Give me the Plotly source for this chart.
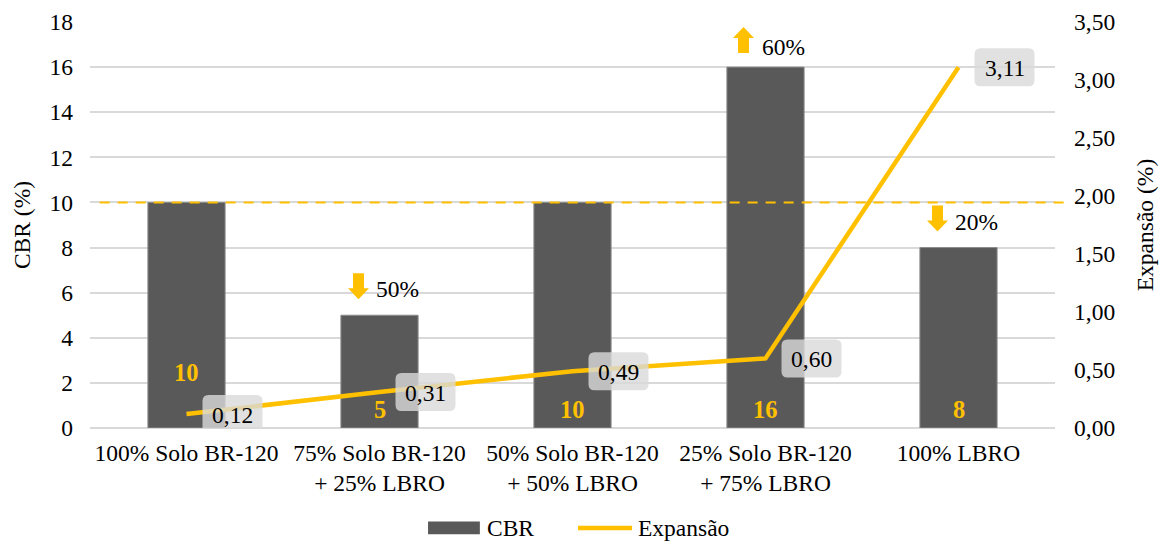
import plotly.graph_objects as go

# --- data -------------------------------------------------------------
categories = [
    "100% Solo BR-120",
    "75% Solo BR-120<br>+ 25% LBRO",
    "50% Solo BR-120<br>+ 50% LBRO",
    "25% Solo BR-120<br>+ 75% LBRO",
    "100% LBRO",
]
cbr = [10, 5, 10, 16, 8]                      # CBR (%)
expansao = [0.12, 0.31, 0.49, 0.60, 3.11]     # Expansão (%)
cbr_limite = 10                               # reference CBR line
cbr_ticks = [0, 2, 4, 6, 8, 10, 12, 14, 16, 18]
exp_ticks = [0.0, 0.5, 1.0, 1.5, 2.0, 2.5, 3.0, 3.5]
series_names = ["CBR", "Expansão"]

# --- style ------------------------------------------------------------
GOLD = "#FFC000"
BAR = "#595959"
GRID = "#d9d9d9"
FONT = "Liberation Serif, Times New Roman, serif"
FS = 23.5
bar_label_lift = [40, 3, 3, 3, 3]   # px above baseline for the CBR value labels


def fmt(v, nd=2):
    return f"{v:.{nd}f}".replace(".", ",")


fig = go.Figure()

fig.add_trace(go.Bar(
    x=categories, y=cbr, name=series_names[0],
    marker=dict(color=BAR, line=dict(color="#8c8c8c", width=1)),
    width=0.4, yaxis="y",
))
fig.add_trace(go.Scatter(
    x=categories, y=expansao, name=series_names[1], mode="lines",
    line=dict(color=GOLD, width=4.5), yaxis="y2",
))

shapes = []
annotations = []

# dashed reference line at the CBR limit
shapes.append(dict(
    type="line", xref="paper", yref="y", x0=0.01, x1=1.016,
    y0=cbr_limite, y1=cbr_limite, layer="above",
    line=dict(color=GOLD, width=2, dash="10px,8px"),
))

# CBR value labels inside the bars
for cat, v, lift in zip(categories, cbr, bar_label_lift):
    annotations.append(dict(
        x=cat, y=0, xref="x", yref="y", yanchor="bottom", yshift=lift,
        text=f"<b>{v}</b>", showarrow=False,
        font=dict(family=FONT, size=FS + 1, color=GOLD),
    ))

# Expansão labels in rounded grey boxes to the right of each point
box_dx, box_w, box_h, r = 46, 60, 38, 6
x0b, x1b = box_dx - box_w / 2, box_dx + box_w / 2
y0b, y1b = -box_h / 2, box_h / 2
rounded = (
    f"M{x0b + r},{y0b} L{x1b - r},{y0b} Q{x1b},{y0b} {x1b},{y0b + r} "
    f"L{x1b},{y1b - r} Q{x1b},{y1b} {x1b - r},{y1b} "
    f"L{x0b + r},{y1b} Q{x0b},{y1b} {x0b},{y1b - r} "
    f"L{x0b},{y0b + r} Q{x0b},{y0b} {x0b + r},{y0b} Z"
)
for cat, v in zip(categories, expansao):
    shapes.append(dict(
        type="path", xref="x", yref="y2",
        xsizemode="pixel", ysizemode="pixel", xanchor=cat, yanchor=v,
        path=rounded, fillcolor="rgba(217,217,217,0.8)",
        line=dict(width=0), layer="above",
    ))
    annotations.append(dict(
        x=cat, y=v, xref="x", yref="y2", xshift=box_dx, yshift=-1,
        text=fmt(v), showarrow=False,
        font=dict(family=FONT, size=FS, color="#000000"),
    ))

# change of CBR relative to the pure soil, with block arrows
down_arrow = "M-21,16 L-10.5,27 L-15.5,27 L-15.5,42 L-26.5,42 L-26.5,27 L-31.5,27 Z"
up_arrow = "M-22,40 L-11.5,29 L-16.5,29 L-16.5,14 L-27.5,14 L-27.5,29 L-32.5,29 Z"
base = cbr[0]
for cat, v in zip(categories[1:], cbr[1:]):
    change = round((v - base) / base * 100)
    if change == 0:
        continue
    shapes.append(dict(
        type="path", xref="x", yref="y",
        xsizemode="pixel", ysizemode="pixel", xanchor=cat, yanchor=v,
        path=up_arrow if change > 0 else down_arrow,
        fillcolor=GOLD, line=dict(width=0), layer="above",
    ))
    annotations.append(dict(
        x=cat, y=v, xref="x", yref="y", xanchor="left", yanchor="middle",
        xshift=-6, yshift=20 if change > 0 else 26,
        text=f"{abs(change)}%", showarrow=False,
        font=dict(family=FONT, size=FS, color="#000000"),
    ))

# legend below the plot: wide swatch for the bars, short stroke for the line
LEG_Y = -0.246
shapes.append(dict(
    type="rect", xref="paper", yref="paper",
    x0=0.3503, x1=0.404, y0=LEG_Y - 0.016, y1=LEG_Y + 0.016,
    fillcolor=BAR, line=dict(width=0),
))
shapes.append(dict(
    type="line", xref="paper", yref="paper",
    x0=0.5057, x1=0.5617, y0=LEG_Y, y1=LEG_Y,
    line=dict(color=GOLD, width=4.5),
))
for name, xl in zip(series_names, [0.4093, 0.5658]):
    annotations.append(dict(
        x=xl, y=LEG_Y, xref="paper", yref="paper",
        xanchor="left", yanchor="middle", text=name, showarrow=False,
        font=dict(family=FONT, size=FS, color="#000000"),
    ))

fig.update_layout(
    width=1164, height=544,
    margin=dict(l=90, r=109, t=22, b=116, autoexpand=False),
    paper_bgcolor="white", plot_bgcolor="white",
    font=dict(family=FONT, size=FS, color="#000000"),
    separators=",.",
    bargap=0.6,
    showlegend=False,
    xaxis=dict(
        showgrid=False, showline=False, ticks="", automargin=False,
        tickfont=dict(family=FONT, size=FS), ticklabelstandoff=8,
    ),
    yaxis=dict(
        range=[0, 18], tickvals=cbr_ticks, showgrid=True, gridcolor=GRID,
        gridwidth=1.5, zeroline=True, zerolinecolor=GRID, zerolinewidth=1.5,
        automargin=False,
        tickfont=dict(family=FONT, size=FS), ticklabelstandoff=16,
        title=dict(text="CBR (%)", font=dict(family=FONT, size=FS), standoff=12),
    ),
    yaxis2=dict(
        range=[0, 3.5], tickvals=exp_ticks, tickformat=".2f",
        overlaying="y", side="right", showgrid=False, zeroline=False,
        automargin=False,
        tickfont=dict(family=FONT, size=FS), ticklabelstandoff=18,
        title=dict(text="Expansão (%)", font=dict(family=FONT, size=FS), standoff=22),
    ),
    shapes=shapes,
    annotations=annotations,
)

fig.write_html("out.html")
